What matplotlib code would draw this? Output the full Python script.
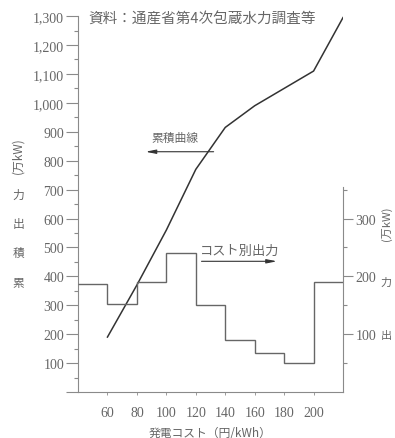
import matplotlib
matplotlib.use("Agg")
import matplotlib.pyplot as plt
from matplotlib.ticker import MultipleLocator, FuncFormatter

plt.rcParams['font.family'] = ['Liberation Serif', 'DejaVu Serif']

# cumulative output curve (left axis, 万kW)
cost_pts = [60, 80, 100, 120, 140, 160, 180, 200, 220]
cum_output = [190, 370, 560, 770, 915, 990, 1050, 1110, 1295]

# output per cost bin (right axis, 万kW)
bin_edges = [40, 60, 80, 100, 120, 140, 160, 180, 200, 220]
bin_output = [186, 152, 191, 241, 150, 90, 67, 50, 190]

xticks = [60, 80, 100, 120, 140, 160, 180, 200]

ink = '#333333'
grey = '#666666'
spine_c = '#8a8a8a'

fig = plt.figure(figsize=(3.95, 4.39), dpi=100)
ax = fig.add_axes([0.1975, 0.1048, 0.6709, 0.8562])
ax2 = ax.twinx()

ax.plot(cost_pts, cum_output, color=ink, lw=1.1)
ax2.stairs(bin_output, bin_edges, color=grey, lw=1.0, baseline=None)

ax.set_xlim(40, 220)
ax.set_ylim(0, 1300)
ax2.set_ylim(0, 650)

for s in ['top', 'right']:
    ax.spines[s].set_visible(False)
for s in ['top', 'left', 'bottom']:
    ax2.spines[s].set_visible(False)
ax2.spines['right'].set_bounds(0, 355)
for sp in [ax.spines['left'], ax.spines['bottom'], ax2.spines['right']]:
    sp.set_color(spine_c)
    sp.set_linewidth(0.8)

ax.set_xticks(xticks)
ax.yaxis.set_major_locator(MultipleLocator(100))
ax.yaxis.set_minor_locator(MultipleLocator(50))
ax.yaxis.set_major_formatter(FuncFormatter(lambda v, p: f"{int(v):,}" if v > 0 else ""))
ax2.set_yticks([100, 200, 300])
ax2.set_yticks([50, 150, 250, 350], minor=True)

ax.tick_params(axis='y', which='major', length=9, width=0.8, color=spine_c,
               labelsize=10, labelcolor=grey, pad=1)
ax.tick_params(axis='y', which='minor', length=3, width=0.8, color=spine_c)
ax.tick_params(axis='x', length=2, width=0.6, color=spine_c, labelsize=10,
               labelcolor=grey, pad=8)
ax2.tick_params(axis='y', which='major', length=7, width=0.8, color=spine_c,
                labelsize=10, labelcolor=grey, pad=2)
ax2.tick_params(axis='y', which='minor', length=3, width=0.8, color=spine_c)

jp = ['Noto Sans CJK JP', 'DejaVu Sans']

ax.text(0.04, 1290, '資料：通産省第4次包蔵水力調査等', transform=ax.get_yaxis_transform(),
        fontsize=10.5, color=grey, va='center', ha='left', family=jp)

ax.text(106, 858, '累積曲線', fontsize=8.5, color=grey, ha='center', va='bottom', family=jp)
ax.annotate('', xy=(84, 831), xytext=(134, 831),
            arrowprops=dict(arrowstyle='-|>,head_length=0.6,head_width=0.12',
                            color=ink, lw=0.8))

ax.text(150, 468, 'コスト別出力', fontsize=9.5, color=grey, ha='center', va='bottom', family=jp)
ax.annotate('', xy=(177, 452), xytext=(122, 452),
            arrowprops=dict(arrowstyle='-|>,head_length=0.6,head_width=0.12',
                            color=ink, lw=0.8))

ax.set_xlabel('発電コスト（円/kWh）', fontsize=8.5, color=grey, family=jp, labelpad=5)

# left vertical label: upright kanji stacked, unit rotated
for i, ch in enumerate('累積出力'):
    fig.text(0.046, 0.355 + i * 0.067, ch, fontsize=8.5, color=grey, family=jp,
             ha='center', va='center')
fig.text(0.046, 0.645, '(万kW)', fontsize=8.5, color=grey, family=jp,
         ha='center', va='center', rotation=90)

# right vertical label near the edge
for i, ch in enumerate('出力'):
    fig.text(0.978, 0.235 + i * 0.12, ch, fontsize=8, color=grey, family=jp,
             ha='center', va='center')
fig.text(0.978, 0.49, '(万kW)', fontsize=8, color=grey, family=jp,
         ha='center', va='center', rotation=90)

fig.savefig('out.png', dpi=100)
